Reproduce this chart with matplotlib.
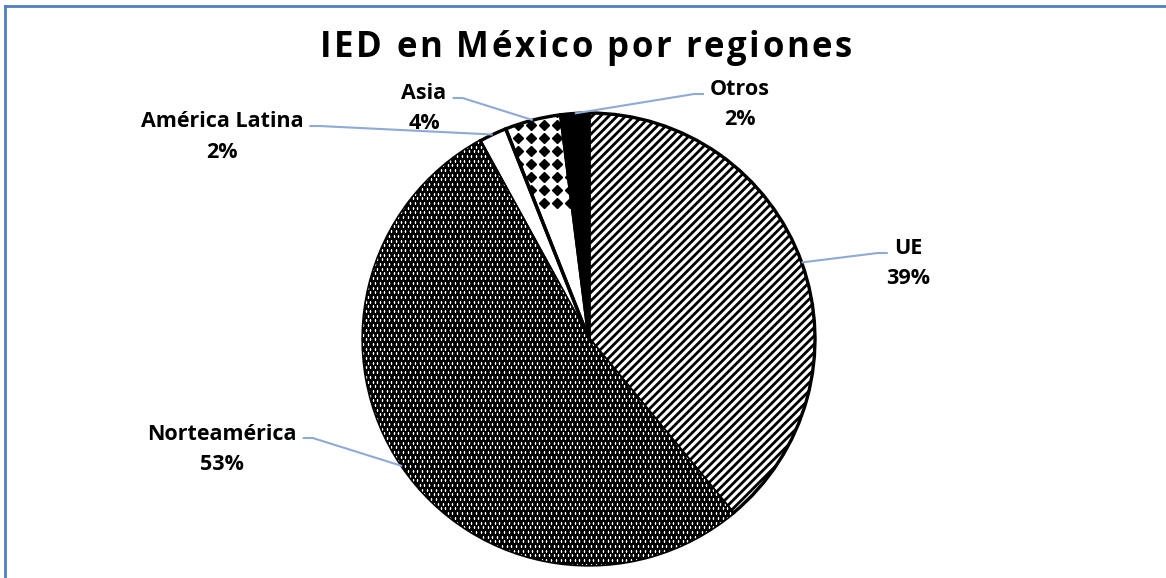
import numpy as np
import matplotlib.pyplot as plt
from matplotlib.patches import Wedge
from matplotlib.lines import Line2D

plt.rcParams["font.family"] = ["Open Sans", "DejaVu Sans"]

# Data
regiones = ["UE", "Norteamérica", "América Latina", "Asia", "Otros"]
porcentajes = [39, 53, 2, 4, 2]

W, H = 1166, 578
cx, cy, R = 589, 339, 226  # pie centre / radius in pixels

# Label centres in pixels (layout): name line, percent line below
label_px = {
    "UE": (908, 249),
    "Norteamérica": (222, 434),
    "América Latina": (222, 122),
    "Asia": (424, 94),
    "Otros": (740, 90),
}


def px2d(x, y):
    return (x - cx) / R, (cy - y) / R


fig = plt.figure(figsize=(W / 100, H / 100), dpi=100)
ax = fig.add_axes([0, 0, 1, 1])

wedges, _ = ax.pie(porcentajes, startangle=90, counterclock=False,
                   radius=1, wedgeprops=dict(linewidth=0))
ax.set_aspect("auto")
ax.set_xlim(-cx / R, (W - cx) / R)
ax.set_ylim(-(H - cy) / R, cy / R)
ax.axis("off")

styles = {
    "UE": dict(fc="white", ec="black", hatch="////"),
    "Norteamérica": dict(fc="black", ec="black", hatch=None),
    "América Latina": dict(fc="white", ec="white", hatch=None),
    "Asia": dict(fc="white", ec="white", hatch=None),
    "Otros": dict(fc="black", ec="black", hatch=None),
}

for w, name in zip(wedges, regiones):
    st = styles[name]
    w.set_facecolor(st["fc"])
    w.set_edgecolor(st["ec"])
    w.set_linewidth(0)
    if st["hatch"]:
        w.set_hatch(st["hatch"])
        if hasattr(w, "set_hatch_linewidth"):
            w.set_hatch_linewidth(2.0)
        else:
            w._hatch_linewidth = 2.0

# Dotted texture for Norteamérica (white dots on black, staggered rows)
norte = wedges[regiones.index("Norteamérica")]
pitch = 4.7 / R
rows = np.arange(-1.02, 1.02, pitch)
dx, dy = [], []
for i, yy in enumerate(rows):
    xs = np.arange(-1.02, 0.7, pitch) + (pitch / 2 if i % 2 else 0)
    dx.extend(xs)
    dy.extend([yy] * len(xs))
ax.plot(dx, dy, linestyle="none", marker="s", ms=1.1, mew=0,
        color="white", clip_path=norte)

# Diamond texture for Asia
asia = wedges[regiones.index("Asia")]
step = 13 / R
gx, gy = np.meshgrid(np.arange(-0.6, 0.1, step), np.arange(0.6, 1.05, step))
ax.plot(gx.ravel(), gy.ravel(), linestyle="none", marker="D", ms=5.6,
        color="black", clip_path=asia)

# Black outlines
for w in wedges:
    ax.add_patch(Wedge(w.center, w.r, w.theta1, w.theta2, fill=False,
                       ec="black", lw=2.4, joinstyle="miter"))

renderer = fig.canvas.get_renderer()

# Labels with leader lines
lead_color = "#8EAAD6"
for w, name, pct in zip(wedges, regiones, porcentajes):
    ang = np.deg2rad((w.theta1 + w.theta2) / 2)
    px, py = np.cos(ang), np.sin(ang)
    lx, ly = label_px[name]
    t = ax.text(*px2d(lx, ly), name, ha="center", va="center",
                fontsize=15.5, fontweight="bold")
    ax.text(*px2d(lx, ly + 30), f"{pct}%", ha="center", va="center",
            fontsize=15.5, fontweight="bold")
    bb = t.get_window_extent(renderer)
    left_side = px2d(lx, ly)[0] < px
    if left_side:
        sx = bb.x1 + 6
        hx = sx + 10
    else:
        sx = bb.x0 - 6
        hx = sx - 10
    lyd = px2d(0, ly + 4)[1]
    ax.plot([px2d(sx, 0)[0], px2d(hx, 0)[0], px], [lyd, lyd, py],
            color=lead_color, lw=1.5, solid_capstyle="butt")

# Title with letter spacing (Excel-style tracking)
title = "IED en México por regiones"
title_size = 25
t_left, t_right, t_base = 320, 852, 57


def ink_width(s):
    tt = ax.text(0, 0, s, fontsize=title_size, fontweight="bold")
    wd = tt.get_window_extent(renderer).width
    tt.remove()
    return wd


n_w = ink_width("n")
space_w = ink_width("n n") - 2 * n_w
widths = [space_w if ch == " " else ink_width(ch) for ch in title]
gap = (t_right - t_left - sum(widths)) / (len(title) - 1)
x = t_left
for ch, wd in zip(title, widths):
    if ch != " ":
        ax.text(*px2d(x, t_base), ch, ha="left", va="baseline",
                fontsize=title_size, fontweight="bold")
    x += wd + gap

# Chart border (left and top)
fig.add_artist(Line2D([5 / W, 5 / W], [0, 1 - 6 / H], color="#4F81BD",
                      lw=2, transform=fig.transFigure))
fig.add_artist(Line2D([5 / W, 1], [1 - 6 / H, 1 - 6 / H], color="#4F81BD",
                      lw=2, transform=fig.transFigure))

fig.savefig("out.png", dpi=100)
